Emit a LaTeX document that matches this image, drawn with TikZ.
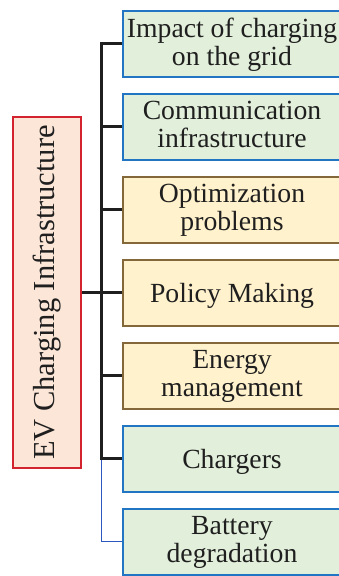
\documentclass[tikz,border=0pt]{standalone}
\usepackage{fontspec}
\setmainfont{Liberation Serif}
\begin{document}
\begin{tikzpicture}[x=1pt,y=-1pt,
  txt/.style={text=black!88, font=\fontsize{27.7}{28.5}\selectfont, align=center},
  leaf/.style={txt, draw, line width=2pt, rectangle, minimum width=218pt, minimum height=66.5pt, inner sep=0pt, text depth=4.5pt},
  oneline/.style={text depth=0pt},
  greenbox/.style={leaf, draw=boxblue, fill=leafgreen},
  yellowbox/.style={leaf, draw=boxbrown, fill=leafyellow},
  trunkline/.style={line width=3pt, draw=black!88, line join=miter},
  thinline/.style={line width=1.3pt, draw=thinblue}]
\definecolor{boxblue}{HTML}{2275C2}
\definecolor{leafgreen}{HTML}{E2EFDA}
\definecolor{boxbrown}{HTML}{85683A}
\definecolor{leafyellow}{HTML}{FFF2CC}
\definecolor{rootred}{HTML}{D2232E}
\definecolor{rootfill}{HTML}{FCE6D8}
\definecolor{thinblue}{HTML}{2C58C0}

\useasboundingbox (0,0) rectangle (339,576);
\clip (0,0) rectangle (339,576);

% root box with vertical title
\node[draw=rootred, fill=rootfill, line width=2pt, minimum width=68pt, minimum height=351pt, inner sep=0pt] (root) at (47,292.5) {};
\node[txt, font=\fontsize{30.5}{31}\selectfont, rotate=90] (roottext) at (root.center) {EV Charging Infrastructure};

% topic boxes
\node[greenbox]  (b1) at (232, 43.75) {Impact of charging\\on the grid};
\node[greenbox]  (b2) at (232,126.75) {Communication\\infrastructure};
\node[yellowbox] (b3) at (232,209.75) {Optimization\\problems};
\node[yellowbox, oneline] (b4) at (232,292.75) {Policy Making};
\node[yellowbox] (b5) at (232,375.75) {Energy\\management};
\node[greenbox, oneline]  (b6) at (232,458.75) {Chargers};
\node[greenbox]  (b7) at (232,541.75) {Battery\\degradation};

% junction on the trunk
\coordinate (jr) at (101.5,292.5);

% connectors
\draw[thinline] (b6.west -| jr) -- (b7.west -| jr) -- (b7.west);
\draw[trunkline] (b1.west) -- (b1.west -| jr) -- (b6.west -| jr) -- (b6.west);
\draw[trunkline] (root.east) -- (jr);
\foreach \b in {b2,b3,b4,b5}
  \draw[trunkline] (\b.west -| jr) -- (\b.west);
\end{tikzpicture}
\end{document}
